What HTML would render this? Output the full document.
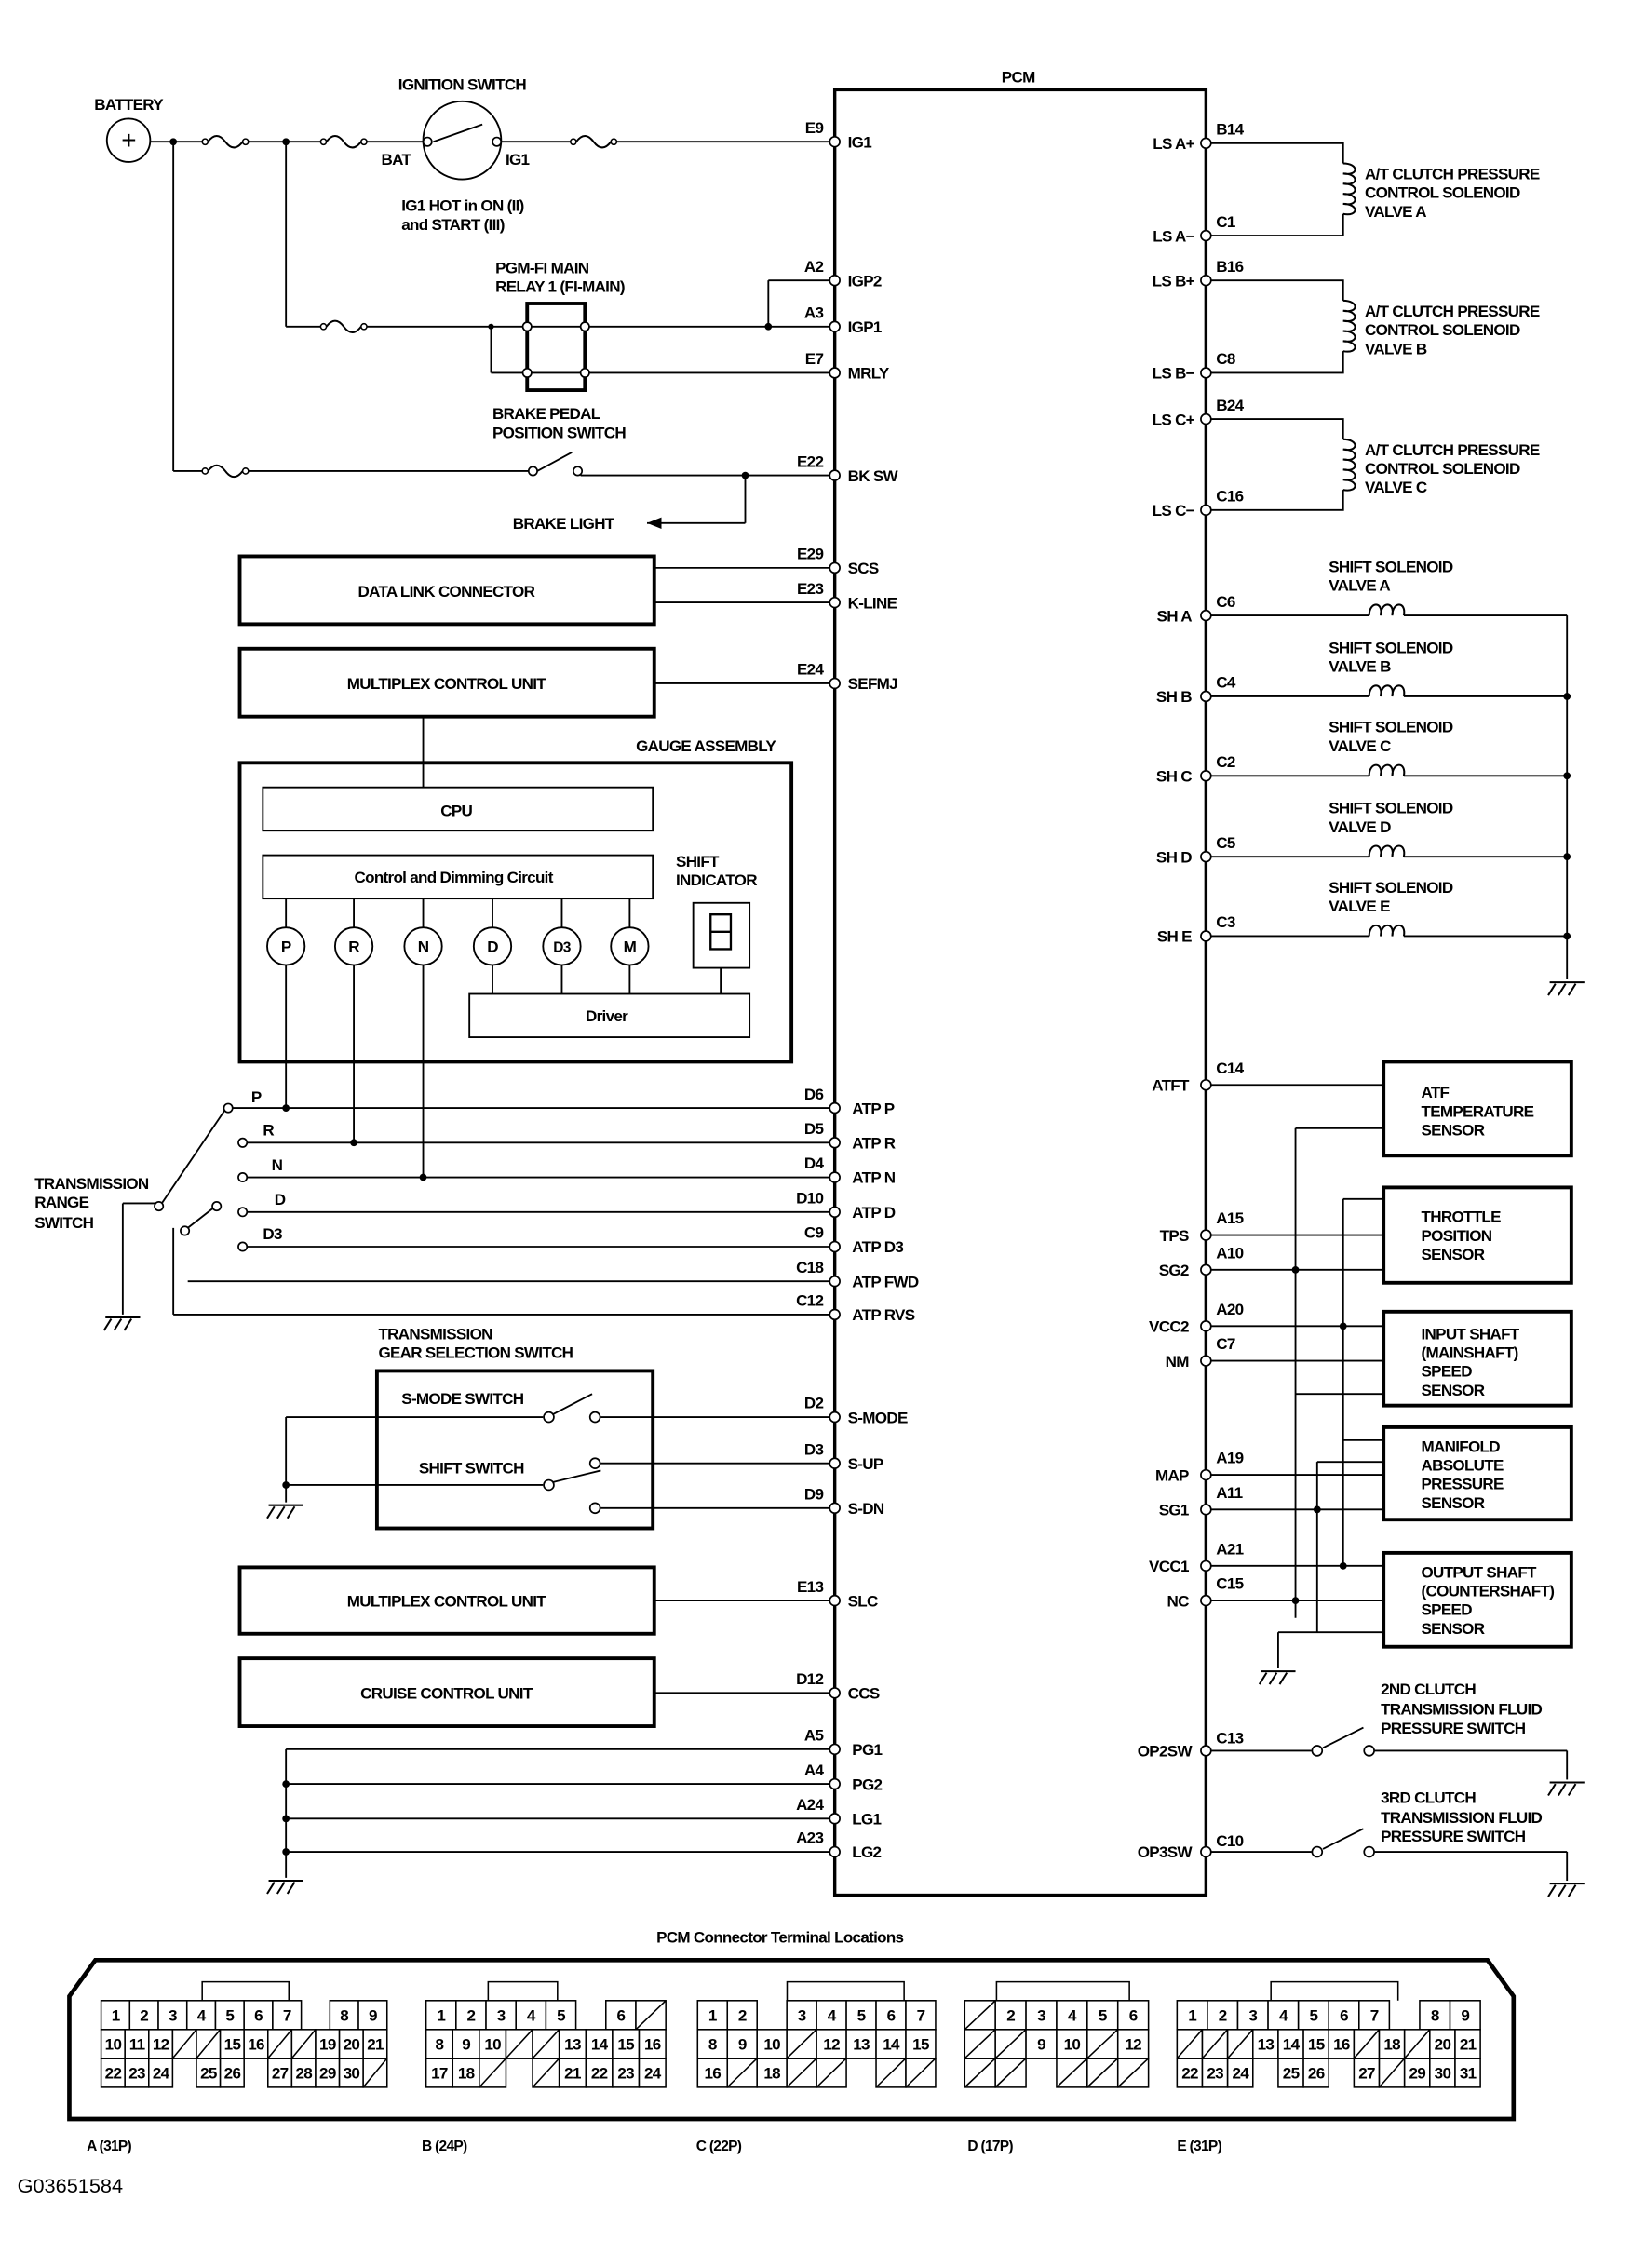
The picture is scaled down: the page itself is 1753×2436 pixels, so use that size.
<!DOCTYPE html>
<html><head><meta charset="utf-8"><style>
html,body{margin:0;padding:0;background:#fff}
svg{display:block}
text{font-family:"Liberation Sans Narrow","Liberation Sans",sans-serif;font-weight:bold;font-size:11px;letter-spacing:-0.45px;fill:#000}
.r{text-anchor:end}.m{text-anchor:middle}
</style></head><body>
<svg width="1753" height="2436" viewBox="0 0 1130 1570" xmlns="http://www.w3.org/2000/svg">
<defs>
<g id="fuse"><circle cx="2" cy="0" r="2" fill="#fff" stroke="#000"/><path d="M4 0 q6 -8 12 0 q6 8 12 0" fill="none" stroke="#000" stroke-width="1.3"/><circle cx="30" cy="0" r="2" fill="#fff" stroke="#000"/></g>
<g id="gnd" stroke="#000" stroke-width="1.3"><line x1="-12" y1="0" x2="12" y2="0"/><line x1="-8" y1="1" x2="-13" y2="9"/><line x1="-1" y1="1" x2="-6" y2="9"/><line x1="6" y1="1" x2="1" y2="9"/></g>
<g id="hcoil"><path d="M0 0 c0 -10 10 -10 8 0 c0 -10 10 -10 8 0 c0 -10 10 -10 8 0" fill="none" stroke="#000" stroke-width="1.3"/></g>
<g id="vcoil"><path d="M0 0 c11 0 11 9 0 7 c11 0 11 9 0 7 c11 0 11 9 0 7 c11 0 11 9 0 7 c11 0 11 9 0 7" fill="none" stroke="#000" stroke-width="1.3"/></g>
</defs>
<g stroke="#000" stroke-width="1.2" fill="none">
<rect x="578" y="62" width="257" height="1250" stroke-width="2.2"/>
<circle cx="89" cy="97" r="15"/>
<line x1="104" y1="98" x2="140" y2="98"/><line x1="170" y1="98" x2="222" y2="98"/><line x1="252" y1="98" x2="296" y2="98"/>
<line x1="344" y1="98" x2="395" y2="98"/><line x1="425" y1="98" x2="578" y2="98"/>
<circle cx="320" cy="97" r="27"/>
<line x1="300" y1="98" x2="334" y2="86"/>
<line x1="120" y1="98" x2="120" y2="326"/><line x1="120" y1="326" x2="140" y2="326"/><line x1="170" y1="326" x2="366" y2="326"/>
<line x1="372" y1="326" x2="396" y2="313"/><line x1="402" y1="329" x2="578" y2="329"/><line x1="400" y1="326" x2="402" y2="329"/>
<line x1="516" y1="329" x2="516" y2="362"/><line x1="516" y1="362" x2="448" y2="362"/>
<line x1="198" y1="98" x2="198" y2="226"/><line x1="198" y1="226" x2="222" y2="226"/><line x1="252" y1="226" x2="578" y2="226"/>
<line x1="340" y1="258" x2="578" y2="258"/><line x1="340" y1="226" x2="340" y2="258"/>
<rect x="365" y="210" width="40" height="60" stroke-width="2.5"/>
<line x1="532" y1="226" x2="532" y2="194"/><line x1="532" y1="194" x2="578" y2="194"/>
<rect x="166" y="385" width="287" height="47" stroke-width="2.5"/>
<rect x="166" y="449" width="287" height="47" stroke-width="2.5"/>
<line x1="453" y1="393" x2="578" y2="393"/><line x1="453" y1="417" x2="578" y2="417"/><line x1="453" y1="473" x2="578" y2="473"/>
<line x1="293" y1="496" x2="293" y2="545"/>
<rect x="166" y="528" width="382" height="207" stroke-width="2.5"/>
<rect x="182" y="545" width="270" height="30"/>
<rect x="182" y="592" width="270" height="30"/>
<line x1="198" y1="622" x2="198" y2="642"/><line x1="245" y1="622" x2="245" y2="642"/><line x1="293" y1="622" x2="293" y2="642"/><line x1="341" y1="622" x2="341" y2="642"/><line x1="389" y1="622" x2="389" y2="642"/><line x1="436" y1="622" x2="436" y2="642"/>
<circle cx="198" cy="655" r="13"/><circle cx="245" cy="655" r="13"/><circle cx="293" cy="655" r="13"/><circle cx="341" cy="655" r="13"/><circle cx="389" cy="655" r="13"/><circle cx="436" cy="655" r="13"/>
<line x1="341" y1="668" x2="341" y2="688"/><line x1="389" y1="668" x2="389" y2="688"/><line x1="436" y1="668" x2="436" y2="688"/>
<rect x="325" y="688" width="194" height="30"/>
<rect x="480" y="625" width="39" height="45"/><line x1="499" y1="670" x2="499" y2="688"/>
<path d="M492 633h14v12h-14z M492 645v12h14v-12" stroke-width="1.5"/>
<line x1="198" y1="668" x2="198" y2="767"/><line x1="245" y1="668" x2="245" y2="791"/><line x1="293" y1="668" x2="293" y2="815"/>
<line x1="160" y1="767" x2="578" y2="767"/><line x1="170" y1="791" x2="578" y2="791"/><line x1="170" y1="815" x2="578" y2="815"/><line x1="170" y1="839" x2="578" y2="839"/><line x1="170" y1="863" x2="578" y2="863"/>
<line x1="130" y1="887" x2="578" y2="887"/><line x1="120" y1="910" x2="578" y2="910"/>
<line x1="112" y1="833" x2="156" y2="768"/><line x1="130" y1="850" x2="148" y2="836"/>
<line x1="120" y1="850" x2="120" y2="910"/><line x1="85" y1="833" x2="112" y2="833"/><line x1="85" y1="833" x2="85" y2="910"/>
<rect x="261" y="949" width="191" height="109" stroke-width="2.5"/>
<line x1="198" y1="981" x2="376" y2="981"/><line x1="198" y1="1028" x2="376" y2="1028"/><line x1="198" y1="981" x2="198" y2="1040"/>
<line x1="383" y1="979" x2="410" y2="965"/><line x1="416" y1="981" x2="578" y2="981"/>
<line x1="383" y1="1026" x2="416" y2="1018"/><line x1="416" y1="1013" x2="578" y2="1013"/><line x1="416" y1="1044" x2="578" y2="1044"/>
<rect x="166" y="1085" width="287" height="46" stroke-width="2.5"/>
<rect x="166" y="1148" width="287" height="47" stroke-width="2.5"/>
<line x1="453" y1="1108" x2="578" y2="1108"/><line x1="453" y1="1172" x2="578" y2="1172"/>
<line x1="198" y1="1211" x2="198" y2="1300"/>
<line x1="198" y1="1211" x2="578" y2="1211"/><line x1="198" y1="1235" x2="578" y2="1235"/><line x1="198" y1="1259" x2="578" y2="1259"/><line x1="198" y1="1282" x2="578" y2="1282"/>
<path d="M835 99H930V113 M930 148V163H835"/><path d="M835 194H930V208 M930 243V258H835"/><path d="M835 290H930V304 M930 339V353H835"/>
<line x1="835" y1="426" x2="948" y2="426"/><line x1="972" y1="426" x2="1085" y2="426"/>
<line x1="835" y1="482" x2="948" y2="482"/><line x1="972" y1="482" x2="1085" y2="482"/>
<line x1="835" y1="537" x2="948" y2="537"/><line x1="972" y1="537" x2="1085" y2="537"/>
<line x1="835" y1="593" x2="948" y2="593"/><line x1="972" y1="593" x2="1085" y2="593"/>
<line x1="835" y1="648" x2="948" y2="648"/><line x1="972" y1="648" x2="1085" y2="648"/>
<line x1="1085" y1="426" x2="1085" y2="678"/>
<rect x="958" y="735" width="130" height="65" stroke-width="2.5"/>
<rect x="958" y="822" width="130" height="66" stroke-width="2.5"/>
<rect x="958" y="908" width="130" height="65" stroke-width="2.5"/>
<rect x="958" y="988" width="130" height="64" stroke-width="2.5"/>
<rect x="958" y="1075" width="130" height="65" stroke-width="2.5"/>
<line x1="835" y1="751" x2="958" y2="751"/><line x1="897" y1="781" x2="958" y2="781"/>
<line x1="835" y1="855" x2="958" y2="855"/><line x1="835" y1="879" x2="958" y2="879"/><line x1="930" y1="830" x2="958" y2="830"/>
<line x1="835" y1="918" x2="958" y2="918"/><line x1="835" y1="942" x2="958" y2="942"/><line x1="897" y1="965" x2="958" y2="965"/>
<line x1="930" y1="997" x2="958" y2="997"/><line x1="835" y1="1021" x2="958" y2="1021"/><line x1="835" y1="1045" x2="958" y2="1045"/><line x1="912" y1="1012" x2="958" y2="1012"/>
<line x1="835" y1="1084" x2="958" y2="1084"/><line x1="835" y1="1108" x2="958" y2="1108"/><line x1="885" y1="1130" x2="958" y2="1130"/>
<line x1="897" y1="781" x2="897" y2="1120"/><line x1="930" y1="830" x2="930" y2="1084"/><line x1="912" y1="1012" x2="912" y2="1130"/>
<line x1="885" y1="1130" x2="885" y2="1155"/>
<line x1="835" y1="1212" x2="908" y2="1212"/><line x1="916" y1="1210" x2="944" y2="1196"/><line x1="950" y1="1212" x2="1085" y2="1212"/><line x1="1085" y1="1212" x2="1085" y2="1232"/>
<line x1="835" y1="1282" x2="908" y2="1282"/><line x1="916" y1="1280" x2="944" y2="1266"/><line x1="950" y1="1282" x2="1085" y2="1282"/><line x1="1085" y1="1282" x2="1085" y2="1302"/>
</g>
<use href="#fuse" x="140" y="98"/><use href="#fuse" x="222" y="98"/><use href="#fuse" x="395" y="98"/>
<use href="#fuse" x="140" y="326"/><use href="#fuse" x="222" y="226"/>
<use href="#gnd" x="85" y="912"/><use href="#gnd" x="198" y="1042"/><use href="#gnd" x="198" y="1302"/>
<use href="#gnd" x="1085" y="680"/><use href="#gnd" x="885" y="1157"/><use href="#gnd" x="1085" y="1234"/><use href="#gnd" x="1085" y="1304"/>
<use href="#vcoil" x="930" y="113"/><use href="#vcoil" x="930" y="208"/><use href="#vcoil" x="930" y="304"/>
<use href="#hcoil" x="948" y="426"/><use href="#hcoil" x="948" y="482"/><use href="#hcoil" x="948" y="537"/><use href="#hcoil" x="948" y="593"/><use href="#hcoil" x="948" y="648"/>
<path d="M448 362 l10 -4 v8z" fill="#000"/>
<g fill="#000">
<circle cx="120" cy="98" r="2.5"/><circle cx="198" cy="98" r="2.5"/><circle cx="516" cy="329" r="2.5"/><circle cx="532" cy="226" r="2.5"/><circle cx="340" cy="226" r="2"/>
<circle cx="198" cy="767" r="2.5"/><circle cx="245" cy="791" r="2.5"/><circle cx="293" cy="815" r="2.5"/>
<circle cx="198" cy="1028" r="2.5"/>
<circle cx="198" cy="1235" r="2.5"/><circle cx="198" cy="1259" r="2.5"/><circle cx="198" cy="1282" r="2.5"/>
<circle cx="1085" cy="482" r="2.5"/><circle cx="1085" cy="537" r="2.5"/><circle cx="1085" cy="593" r="2.5"/><circle cx="1085" cy="648" r="2.5"/>
<circle cx="897" cy="879" r="2.5"/><circle cx="930" cy="918" r="2.5"/><circle cx="930" cy="1084" r="2.5"/><circle cx="912" cy="1045" r="2.5"/><circle cx="897" cy="1108" r="2.5"/>
</g>
<g fill="#fff" stroke="#000" stroke-width="1.1">
<circle cx="296" cy="98" r="3"/><circle cx="344" cy="98" r="3"/>
<circle cx="369" cy="326" r="3"/><circle cx="400" cy="326" r="3"/>
<circle cx="365" cy="226" r="3"/><circle cx="405" cy="226" r="3"/><circle cx="365" cy="258" r="3"/><circle cx="405" cy="258" r="3"/>
<circle cx="158" cy="767" r="3"/><circle cx="168" cy="791" r="3"/><circle cx="168" cy="815" r="3"/><circle cx="168" cy="839" r="3"/><circle cx="168" cy="863" r="3"/><circle cx="110" cy="835" r="3"/><circle cx="128" cy="852" r="3"/><circle cx="150" cy="835" r="3"/>
<circle cx="380" cy="981" r="3.5"/><circle cx="412" cy="981" r="3.5"/><circle cx="380" cy="1028" r="3.5"/><circle cx="412" cy="1013" r="3.5"/><circle cx="412" cy="1044" r="3.5"/>
<circle cx="912" cy="1212" r="3.5"/><circle cx="948" cy="1212" r="3.5"/><circle cx="912" cy="1282" r="3.5"/><circle cx="948" cy="1282" r="3.5"/>
<circle cx="578" cy="98" r="3.5"/><circle cx="578" cy="194" r="3.5"/><circle cx="578" cy="226" r="3.5"/><circle cx="578" cy="258" r="3.5"/><circle cx="578" cy="329" r="3.5"/><circle cx="578" cy="393" r="3.5"/><circle cx="578" cy="417" r="3.5"/><circle cx="578" cy="473" r="3.5"/>
<circle cx="578" cy="767" r="3.5"/><circle cx="578" cy="791" r="3.5"/><circle cx="578" cy="815" r="3.5"/><circle cx="578" cy="839" r="3.5"/><circle cx="578" cy="863" r="3.5"/><circle cx="578" cy="887" r="3.5"/><circle cx="578" cy="910" r="3.5"/>
<circle cx="578" cy="981" r="3.5"/><circle cx="578" cy="1013" r="3.5"/><circle cx="578" cy="1044" r="3.5"/><circle cx="578" cy="1108" r="3.5"/><circle cx="578" cy="1172" r="3.5"/><circle cx="578" cy="1211" r="3.5"/><circle cx="578" cy="1235" r="3.5"/><circle cx="578" cy="1259" r="3.5"/><circle cx="578" cy="1282" r="3.5"/>
<circle cx="835" cy="99" r="3.5"/><circle cx="835" cy="163" r="3.5"/><circle cx="835" cy="194" r="3.5"/><circle cx="835" cy="258" r="3.5"/><circle cx="835" cy="290" r="3.5"/><circle cx="835" cy="353" r="3.5"/>
<circle cx="835" cy="426" r="3.5"/><circle cx="835" cy="482" r="3.5"/><circle cx="835" cy="537" r="3.5"/><circle cx="835" cy="593" r="3.5"/><circle cx="835" cy="648" r="3.5"/>
<circle cx="835" cy="751" r="3.5"/><circle cx="835" cy="855" r="3.5"/><circle cx="835" cy="879" r="3.5"/><circle cx="835" cy="918" r="3.5"/><circle cx="835" cy="942" r="3.5"/><circle cx="835" cy="1021" r="3.5"/><circle cx="835" cy="1045" r="3.5"/><circle cx="835" cy="1084" r="3.5"/><circle cx="835" cy="1108" r="3.5"/><circle cx="835" cy="1212" r="3.5"/><circle cx="835" cy="1282" r="3.5"/>
</g>
<text x="705" y="57" class="m">PCM</text>
<text x="89" y="76" class="m">BATTERY</text><text x="89" y="103" class="m" style="font-size:18px;font-weight:normal">+</text>
<text x="320" y="62" class="m">IGNITION SWITCH</text><text x="264" y="114">BAT</text><text x="350" y="114">IG1</text>
<text x="278" y="146">IG1 HOT in ON (II)</text><text x="278" y="159">and START (III)</text>
<text x="343" y="189">PGM-FI MAIN</text><text x="343" y="202">RELAY 1 (FI-MAIN)</text>
<text x="341" y="290">BRAKE PEDAL</text><text x="341" y="303">POSITION SWITCH</text>
<text x="355" y="366">BRAKE LIGHT</text>
<text x="309" y="413" class="m">DATA LINK CONNECTOR</text>
<text x="309" y="477" class="m">MULTIPLEX CONTROL  UNIT</text>
<text x="537" y="520" class="r">GAUGE ASSEMBLY</text>
<text x="316" y="565" class="m">CPU</text>
<text x="314" y="611" class="m">Control and Dimming Circuit</text>
<text x="468" y="600">SHIFT</text><text x="468" y="613">INDICATOR</text>
<text x="198" y="659" class="m">P</text><text x="245" y="659" class="m">R</text><text x="293" y="659" class="m">N</text><text x="341" y="659" class="m">D</text><text x="389" y="659" class="m" style="font-size:10px">D3</text><text x="436" y="659" class="m">M</text>
<text x="420" y="707" class="m">Driver</text>
<text x="174" y="763">P</text><text x="182" y="786">R</text><text x="188" y="810">N</text><text x="190" y="834">D</text><text x="182" y="858">D3</text>
<text x="24" y="823">TRANSMISSION</text><text x="24" y="836">RANGE</text><text x="24" y="850">SWITCH</text>
<text x="262" y="927">TRANSMISSION</text><text x="262" y="940">GEAR SELECTION SWITCH</text>
<text x="278" y="972">S-MODE SWITCH</text><text x="290" y="1020">SHIFT SWITCH</text>
<text x="309" y="1112" class="m">MULTIPLEX CONTROL  UNIT</text>
<text x="309" y="1176" class="m">CRUISE CONTROL  UNIT</text>
<g>
<text x="587" y="102">IG1</text><text x="570" y="92" class="r">E9</text>
<text x="587" y="198">IGP2</text><text x="570" y="188" class="r">A2</text>
<text x="587" y="230">IGP1</text><text x="570" y="220" class="r">A3</text>
<text x="587" y="262">MRLY</text><text x="570" y="252" class="r">E7</text>
<text x="587" y="333">BK SW</text><text x="570" y="323" class="r">E22</text>
<text x="587" y="397">SCS</text><text x="570" y="387" class="r">E29</text>
<text x="587" y="421">K-LINE</text><text x="570" y="411" class="r">E23</text>
<text x="587" y="477">SEFMJ</text><text x="570" y="467" class="r">E24</text>
<text x="590" y="771">ATP P</text><text x="570" y="761" class="r">D6</text>
<text x="590" y="795">ATP R</text><text x="570" y="785" class="r">D5</text>
<text x="590" y="819">ATP N</text><text x="570" y="809" class="r">D4</text>
<text x="590" y="843">ATP D</text><text x="570" y="833" class="r">D10</text>
<text x="590" y="867">ATP D3</text><text x="570" y="857" class="r">C9</text>
<text x="590" y="891">ATP FWD</text><text x="570" y="881" class="r">C18</text>
<text x="590" y="914">ATP RVS</text><text x="570" y="904" class="r">C12</text>
<text x="587" y="985">S-MODE</text><text x="570" y="975" class="r">D2</text>
<text x="587" y="1017">S-UP</text><text x="570" y="1007" class="r">D3</text>
<text x="587" y="1048">S-DN</text><text x="570" y="1038" class="r">D9</text>
<text x="587" y="1112">SLC</text><text x="570" y="1102" class="r">E13</text>
<text x="587" y="1176">CCS</text><text x="570" y="1166" class="r">D12</text>
<text x="590" y="1215">PG1</text><text x="570" y="1205" class="r">A5</text>
<text x="590" y="1239">PG2</text><text x="570" y="1229" class="r">A4</text>
<text x="590" y="1263">LG1</text><text x="570" y="1253" class="r">A24</text>
<text x="590" y="1286">LG2</text><text x="570" y="1276" class="r">A23</text>
</g>
<g>
<text x="827" y="103" class="r">LS A+</text><text x="842" y="93">B14</text>
<text x="827" y="167" class="r">LS A−</text><text x="842" y="157">C1</text>
<text x="827" y="198" class="r">LS B+</text><text x="842" y="188">B16</text>
<text x="827" y="262" class="r">LS B−</text><text x="842" y="252">C8</text>
<text x="827" y="294" class="r">LS C+</text><text x="842" y="284">B24</text>
<text x="827" y="357" class="r">LS C−</text><text x="842" y="347">C16</text>
<text x="825" y="430" class="r">SH A</text><text x="842" y="420">C6</text>
<text x="825" y="486" class="r">SH B</text><text x="842" y="476">C4</text>
<text x="825" y="541" class="r">SH C</text><text x="842" y="531">C2</text>
<text x="825" y="597" class="r">SH D</text><text x="842" y="587">C5</text>
<text x="825" y="652" class="r">SH E</text><text x="842" y="642">C3</text>
<text x="823" y="755" class="r">ATFT</text><text x="842" y="743">C14</text>
<text x="823" y="859" class="r">TPS</text><text x="842" y="847">A15</text>
<text x="823" y="883" class="r">SG2</text><text x="842" y="871">A10</text>
<text x="823" y="922" class="r">VCC2</text><text x="842" y="910">A20</text>
<text x="823" y="946" class="r">NM</text><text x="842" y="934">C7</text>
<text x="823" y="1025" class="r">MAP</text><text x="842" y="1013">A19</text>
<text x="823" y="1049" class="r">SG1</text><text x="842" y="1037">A11</text>
<text x="823" y="1088" class="r">VCC1</text><text x="842" y="1076">A21</text>
<text x="823" y="1112" class="r">NC</text><text x="842" y="1100">C15</text>
<text x="825" y="1216" class="r">OP2SW</text><text x="842" y="1207">C13</text>
<text x="825" y="1286" class="r">OP3SW</text><text x="842" y="1278">C10</text>
</g>
<text x="945" y="124">A/T CLUTCH PRESSURE</text><text x="945" y="137">CONTROL SOLENOID</text><text x="945" y="150">VALVE A</text>
<text x="945" y="219">A/T CLUTCH PRESSURE</text><text x="945" y="232">CONTROL SOLENOID</text><text x="945" y="245">VALVE B</text>
<text x="945" y="315">A/T CLUTCH PRESSURE</text><text x="945" y="328">CONTROL SOLENOID</text><text x="945" y="341">VALVE C</text>
<text x="920" y="396">SHIFT SOLENOID</text><text x="920" y="409">VALVE A</text>
<text x="920" y="452">SHIFT SOLENOID</text><text x="920" y="465">VALVE B</text>
<text x="920" y="507">SHIFT SOLENOID</text><text x="920" y="520">VALVE C</text>
<text x="920" y="563">SHIFT SOLENOID</text><text x="920" y="576">VALVE D</text>
<text x="920" y="618">SHIFT SOLENOID</text><text x="920" y="631">VALVE E</text>
<text x="984" y="760">ATF</text><text x="984" y="773">TEMPERATURE</text><text x="984" y="786">SENSOR</text>
<text x="984" y="846">THROTTLE</text><text x="984" y="859">POSITION</text><text x="984" y="872">SENSOR</text>
<text x="984" y="927">INPUT SHAFT</text><text x="984" y="940">(MAINSHAFT)</text><text x="984" y="953">SPEED</text><text x="984" y="966">SENSOR</text>
<text x="984" y="1005">MANIFOLD</text><text x="984" y="1018">ABSOLUTE</text><text x="984" y="1031">PRESSURE</text><text x="984" y="1044">SENSOR</text>
<text x="984" y="1092">OUTPUT SHAFT</text><text x="984" y="1105">(COUNTERSHAFT)</text><text x="984" y="1118">SPEED</text><text x="984" y="1131">SENSOR</text>
<text x="956" y="1173">2ND CLUTCH</text><text x="956" y="1187">TRANSMISSION FLUID</text><text x="956" y="1200">PRESSURE SWITCH</text>
<text x="956" y="1248">3RD CLUTCH</text><text x="956" y="1262">TRANSMISSION FLUID</text><text x="956" y="1275">PRESSURE SWITCH</text>
<text x="540" y="1345" class="m">PCM Connector Terminal Locations</text>
<path d="M66 1357H1030L1048 1382V1467H48V1382Z" fill="none" stroke="#000" stroke-width="3"/>
<g fill="none" stroke="#000" stroke-width="1">
<path d="M140 1385V1372H200V1385 M338 1385V1372H386V1385 M545 1385V1372H626V1385 M690 1385V1372H782V1385 M880 1385V1372H968V1385"/>
</g>
<g stroke="#000" stroke-width="1" fill="#fff">
<g><rect x="70" y="1385" width="19.8" height="20"/><rect x="89.8" y="1385" width="19.8" height="20"/><rect x="109.6" y="1385" width="19.8" height="20"/><rect x="129.4" y="1385" width="19.8" height="20"/><rect x="149.2" y="1385" width="19.8" height="20"/><rect x="169" y="1385" width="19.8" height="20"/><rect x="188.8" y="1385" width="19.8" height="20"/><rect x="228.4" y="1385" width="19.8" height="20"/><rect x="248.2" y="1385" width="19.8" height="20"/></g>
<g><rect x="70" y="1405" width="16.5" height="20"/><rect x="86.5" y="1405" width="16.5" height="20"/><rect x="103" y="1405" width="16.5" height="20"/><rect x="119.5" y="1405" width="16.5" height="20"/><rect x="136" y="1405" width="16.5" height="20"/><rect x="152.5" y="1405" width="16.5" height="20"/><rect x="169" y="1405" width="16.5" height="20"/><rect x="185.5" y="1405" width="16.5" height="20"/><rect x="202" y="1405" width="16.5" height="20"/><rect x="218.5" y="1405" width="16.5" height="20"/><rect x="235" y="1405" width="16.5" height="20"/><rect x="251.5" y="1405" width="16.5" height="20"/>
<rect x="70" y="1425" width="16.5" height="20"/><rect x="86.5" y="1425" width="16.5" height="20"/><rect x="103" y="1425" width="16.5" height="20"/><rect x="136" y="1425" width="16.5" height="20"/><rect x="152.5" y="1425" width="16.5" height="20"/><rect x="185.5" y="1425" width="16.5" height="20"/><rect x="202" y="1425" width="16.5" height="20"/><rect x="218.5" y="1425" width="16.5" height="20"/><rect x="235" y="1425" width="16.5" height="20"/><rect x="251.5" y="1425" width="16.5" height="20"/></g>
<g><rect x="295" y="1385" width="20.75" height="20"/><rect x="315.75" y="1385" width="20.75" height="20"/><rect x="336.5" y="1385" width="20.75" height="20"/><rect x="357.25" y="1385" width="20.75" height="20"/><rect x="378" y="1385" width="20.75" height="20"/><rect x="419.5" y="1385" width="20.75" height="20"/><rect x="440.25" y="1385" width="20.75" height="20"/>
<rect x="295" y="1405" width="18.44" height="20"/><rect x="313.44" y="1405" width="18.44" height="20"/><rect x="331.88" y="1405" width="18.44" height="20"/><rect x="350.32" y="1405" width="18.44" height="20"/><rect x="368.76" y="1405" width="18.44" height="20"/><rect x="387.2" y="1405" width="18.44" height="20"/><rect x="405.64" y="1405" width="18.44" height="20"/><rect x="424.08" y="1405" width="18.44" height="20"/><rect x="442.52" y="1405" width="18.44" height="20"/>
<rect x="295" y="1425" width="18.44" height="20"/><rect x="313.44" y="1425" width="18.44" height="20"/><rect x="331.88" y="1425" width="18.44" height="20"/><rect x="368.76" y="1425" width="18.44" height="20"/><rect x="387.2" y="1425" width="18.44" height="20"/><rect x="405.64" y="1425" width="18.44" height="20"/><rect x="424.08" y="1425" width="18.44" height="20"/><rect x="442.52" y="1425" width="18.44" height="20"/></g>
<g><rect x="483" y="1385" width="20.6" height="20"/><rect x="503.6" y="1385" width="20.6" height="20"/><rect x="544.8" y="1385" width="20.6" height="20"/><rect x="565.4" y="1385" width="20.6" height="20"/><rect x="586" y="1385" width="20.6" height="20"/><rect x="606.6" y="1385" width="20.6" height="20"/><rect x="627.2" y="1385" width="20.6" height="20"/>
<rect x="483" y="1405" width="20.6" height="20"/><rect x="503.6" y="1405" width="20.6" height="20"/><rect x="524.2" y="1405" width="20.6" height="20"/><rect x="544.8" y="1405" width="20.6" height="20"/><rect x="565.4" y="1405" width="20.6" height="20"/><rect x="586" y="1405" width="20.6" height="20"/><rect x="606.6" y="1405" width="20.6" height="20"/><rect x="627.2" y="1405" width="20.6" height="20"/>
<rect x="483" y="1425" width="20.6" height="20"/><rect x="503.6" y="1425" width="20.6" height="20"/><rect x="524.2" y="1425" width="20.6" height="20"/><rect x="544.8" y="1425" width="20.6" height="20"/><rect x="565.4" y="1425" width="20.6" height="20"/><rect x="606.6" y="1425" width="20.6" height="20"/><rect x="627.2" y="1425" width="20.6" height="20"/></g>
<g><rect x="668" y="1385" width="21.2" height="20"/><rect x="689.2" y="1385" width="21.2" height="20"/><rect x="710.4" y="1385" width="21.2" height="20"/><rect x="731.6" y="1385" width="21.2" height="20"/><rect x="752.8" y="1385" width="21.2" height="20"/><rect x="774" y="1385" width="21.2" height="20"/>
<rect x="668" y="1405" width="21.2" height="20"/><rect x="689.2" y="1405" width="21.2" height="20"/><rect x="710.4" y="1405" width="21.2" height="20"/><rect x="731.6" y="1405" width="21.2" height="20"/><rect x="752.8" y="1405" width="21.2" height="20"/><rect x="774" y="1405" width="21.2" height="20"/>
<rect x="668" y="1425" width="21.2" height="20"/><rect x="689.2" y="1425" width="21.2" height="20"/><rect x="731.6" y="1425" width="21.2" height="20"/><rect x="752.8" y="1425" width="21.2" height="20"/><rect x="774" y="1425" width="21.2" height="20"/></g>
<g><rect x="815" y="1385" width="21" height="20"/><rect x="836" y="1385" width="21" height="20"/><rect x="857" y="1385" width="21" height="20"/><rect x="878" y="1385" width="21" height="20"/><rect x="899" y="1385" width="21" height="20"/><rect x="920" y="1385" width="21" height="20"/><rect x="941" y="1385" width="21" height="20"/><rect x="983" y="1385" width="21" height="20"/><rect x="1004" y="1385" width="21" height="20"/>
<rect x="815" y="1405" width="17.5" height="20"/><rect x="832.5" y="1405" width="17.5" height="20"/><rect x="850" y="1405" width="17.5" height="20"/><rect x="867.5" y="1405" width="17.5" height="20"/><rect x="885" y="1405" width="17.5" height="20"/><rect x="902.5" y="1405" width="17.5" height="20"/><rect x="920" y="1405" width="17.5" height="20"/><rect x="937.5" y="1405" width="17.5" height="20"/><rect x="955" y="1405" width="17.5" height="20"/><rect x="972.5" y="1405" width="17.5" height="20"/><rect x="990" y="1405" width="17.5" height="20"/><rect x="1007.5" y="1405" width="17.5" height="20"/>
<rect x="815" y="1425" width="17.5" height="20"/><rect x="832.5" y="1425" width="17.5" height="20"/><rect x="850" y="1425" width="17.5" height="20"/><rect x="885" y="1425" width="17.5" height="20"/><rect x="902.5" y="1425" width="17.5" height="20"/><rect x="937.5" y="1425" width="17.5" height="20"/><rect x="955" y="1425" width="17.5" height="20"/><rect x="972.5" y="1425" width="17.5" height="20"/><rect x="990" y="1425" width="17.5" height="20"/><rect x="1007.5" y="1425" width="17.5" height="20"/></g>
</g>
<g stroke="#000" stroke-width="1">
<path d="M119.5 1425l16.5 -20 M136 1425l16.5 -20 M185.5 1425l16.5 -20 M202 1425l16.5 -20 M251.5 1445l16.5 -20"/>
<path d="M440.25 1405l20.75 -20 M350.32 1425l18.44 -20 M368.76 1425l18.44 -20 M331.88 1445l18.44 -20 M368.76 1445l18.44 -20"/>
<path d="M544.8 1425l20.6 -20 M503.6 1445l20.6 -20 M544.8 1445l20.6 -20 M565.4 1445l20.6 -20 M606.6 1445l20.6 -20 M627.2 1445l20.6 -20"/>
<path d="M668 1405l21.2 -20 M668 1425l21.2 -20 M689.2 1425l21.2 -20 M752.8 1425l21.2 -20 M668 1445l21.2 -20 M689.2 1445l21.2 -20 M731.6 1445l21.2 -20 M752.8 1445l21.2 -20 M774 1445l21.2 -20"/>
<path d="M815 1425l17.5 -20 M832.5 1425l17.5 -20 M850 1425l17.5 -20 M937.5 1425l17.5 -20 M972.5 1425l17.5 -20 M955 1445l17.5 -20"/>
</g>
<g style="font-size:9.5px">
<text x="80" y="1399" class="m">1</text><text x="99.7" y="1399" class="m">2</text><text x="119.5" y="1399" class="m">3</text><text x="139.3" y="1399" class="m">4</text><text x="159.1" y="1399" class="m">5</text><text x="178.9" y="1399" class="m">6</text><text x="198.7" y="1399" class="m">7</text><text x="238.3" y="1399" class="m">8</text><text x="258.1" y="1399" class="m">9</text>
<text x="78.3" y="1419" class="m">10</text><text x="94.8" y="1419" class="m">11</text><text x="111.3" y="1419" class="m">12</text><text x="160.8" y="1419" class="m">15</text><text x="177.3" y="1419" class="m">16</text><text x="226.8" y="1419" class="m">19</text><text x="243.3" y="1419" class="m">20</text><text x="259.8" y="1419" class="m">21</text>
<text x="78.3" y="1439" class="m">22</text><text x="94.8" y="1439" class="m">23</text><text x="111.3" y="1439" class="m">24</text><text x="144.3" y="1439" class="m">25</text><text x="160.8" y="1439" class="m">26</text><text x="193.8" y="1439" class="m">27</text><text x="210.3" y="1439" class="m">28</text><text x="226.8" y="1439" class="m">29</text><text x="243.3" y="1439" class="m">30</text>
<text x="305.4" y="1399" class="m">1</text><text x="326.1" y="1399" class="m">2</text><text x="346.9" y="1399" class="m">3</text><text x="367.6" y="1399" class="m">4</text><text x="388.4" y="1399" class="m">5</text><text x="429.9" y="1399" class="m">6</text>
<text x="304.2" y="1419" class="m">8</text><text x="322.7" y="1419" class="m">9</text><text x="341.1" y="1419" class="m">10</text><text x="396.4" y="1419" class="m">13</text><text x="414.9" y="1419" class="m">14</text><text x="433.3" y="1419" class="m">15</text><text x="451.7" y="1419" class="m">16</text>
<text x="304.2" y="1439" class="m">17</text><text x="322.7" y="1439" class="m">18</text><text x="396.4" y="1439" class="m">21</text><text x="414.9" y="1439" class="m">22</text><text x="433.3" y="1439" class="m">23</text><text x="451.7" y="1439" class="m">24</text>
<text x="493.3" y="1399" class="m">1</text><text x="513.9" y="1399" class="m">2</text><text x="555.1" y="1399" class="m">3</text><text x="575.7" y="1399" class="m">4</text><text x="596.3" y="1399" class="m">5</text><text x="616.9" y="1399" class="m">6</text><text x="637.5" y="1399" class="m">7</text>
<text x="493.3" y="1419" class="m">8</text><text x="513.9" y="1419" class="m">9</text><text x="534.5" y="1419" class="m">10</text><text x="575.7" y="1419" class="m">12</text><text x="596.3" y="1419" class="m">13</text><text x="616.9" y="1419" class="m">14</text><text x="637.5" y="1419" class="m">15</text>
<text x="493.3" y="1439" class="m">16</text><text x="534.5" y="1439" class="m">18</text>
<text x="699.8" y="1399" class="m">2</text><text x="721" y="1399" class="m">3</text><text x="742.2" y="1399" class="m">4</text><text x="763.4" y="1399" class="m">5</text><text x="784.6" y="1399" class="m">6</text>
<text x="721" y="1419" class="m">9</text><text x="742.2" y="1419" class="m">10</text><text x="784.6" y="1419" class="m">12</text>
<text x="825.5" y="1399" class="m">1</text><text x="846.5" y="1399" class="m">2</text><text x="867.5" y="1399" class="m">3</text><text x="888.5" y="1399" class="m">4</text><text x="909.5" y="1399" class="m">5</text><text x="930.5" y="1399" class="m">6</text><text x="951.5" y="1399" class="m">7</text><text x="993.5" y="1399" class="m">8</text><text x="1014.5" y="1399" class="m">9</text>
<text x="876.3" y="1419" class="m">13</text><text x="893.8" y="1419" class="m">14</text><text x="911.3" y="1419" class="m">15</text><text x="928.8" y="1419" class="m">16</text><text x="963.8" y="1419" class="m">18</text><text x="998.8" y="1419" class="m">20</text><text x="1016.3" y="1419" class="m">21</text>
<text x="823.8" y="1439" class="m">22</text><text x="841.3" y="1439" class="m">23</text><text x="858.8" y="1439" class="m">24</text><text x="893.8" y="1439" class="m">25</text><text x="911.3" y="1439" class="m">26</text><text x="946.3" y="1439" class="m">27</text><text x="981.3" y="1439" class="m">29</text><text x="998.8" y="1439" class="m">30</text><text x="1016.3" y="1439" class="m">31</text>
</g>
<text x="60" y="1489" style="font-size:10px">A (31P)</text><text x="292" y="1489" style="font-size:10px">B (24P)</text><text x="482" y="1489" style="font-size:10px">C (22P)</text><text x="670" y="1489" style="font-size:10px">D (17P)</text><text x="815" y="1489" style="font-size:10px">E (31P)</text>
<text x="12" y="1518" style="font-size:14px;font-weight:normal;letter-spacing:0;font-family:'Liberation Sans',sans-serif">G03651584</text>
</svg>
</body></html>
